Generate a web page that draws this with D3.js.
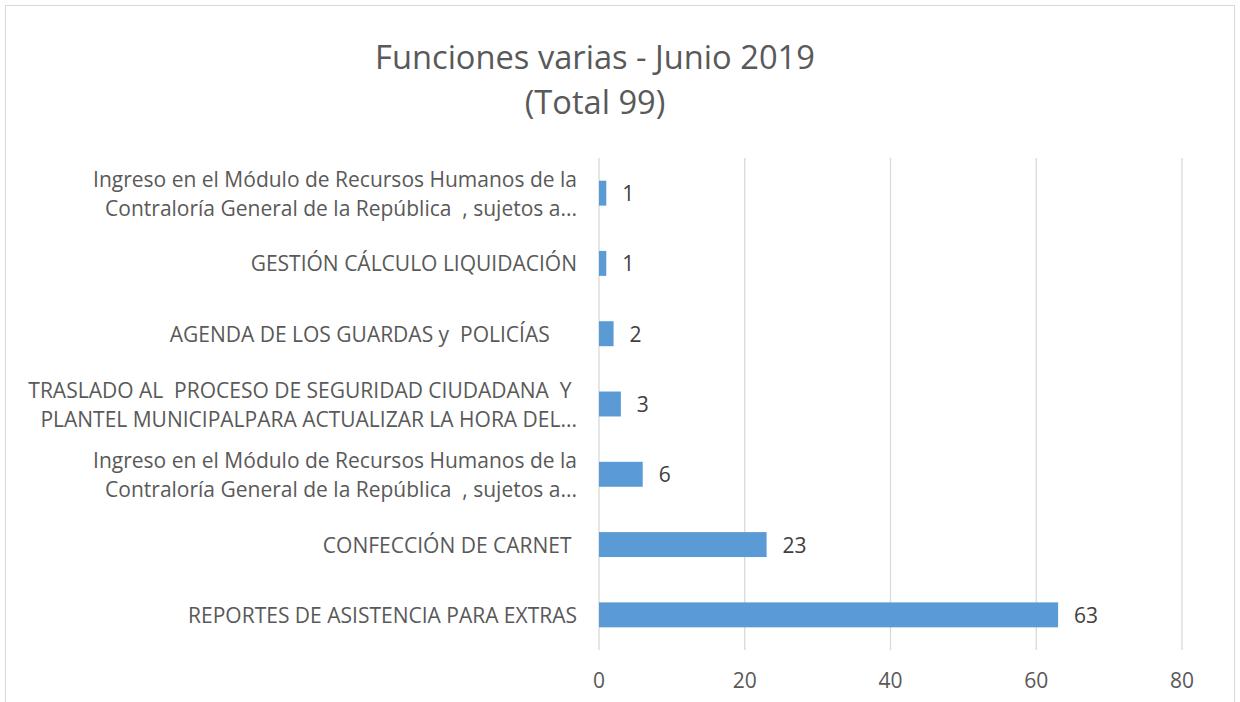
<!DOCTYPE html>
<html><head><meta charset="utf-8">
<script src="https://cdn.jsdelivr.net/npm/d3@7"></script>
<style>body{margin:0;background:#fff}svg text{white-space:pre}</style>
</head><body>
<svg id="c" width="1240" height="702"></svg>
<script>
const titleLines = ["Funciones varias - Junio 2019", "(Total 99)"];
const categories = [
  ["Ingreso en el Módulo de Recursos Humanos de la", "Contraloría General de la República  , sujetos a..."],
  ["GESTIÓN CÁLCULO LIQUIDACIÓN"],
  ["AGENDA DE LOS GUARDAS y  POLICÍAS     "],
  ["TRASLADO AL  PROCESO DE SEGURIDAD CIUDADANA  Y ", "PLANTEL MUNICIPALPARA ACTUALIZAR LA HORA DEL..."],
  ["Ingreso en el Módulo de Recursos Humanos de la", "Contraloría General de la República  , sujetos a..."],
  ["CONFECCIÓN DE CARNET "],
  ["REPORTES DE ASISTENCIA PARA EXTRAS"]
];
const values = [1, 1, 2, 3, 6, 23, 63];
const xTicks = [0, 20, 40, 60, 80];

const svg = d3.select("#c");
const font = "'Open Sans', Lato, sans-serif";
const textColor = "#595959";

// fit a font size so that a sample string has a target width
function fitSize(sample, target, base) {
  const t = svg.append("text").attr("font-family", font).attr("font-size", base).text(sample);
  const w = t.node().getComputedTextLength();
  t.remove();
  return base * target / w;
}
const titleSize = fitSize(titleLines[0], 440, 30);
const labelSize = fitSize("REPORTES DE ASISTENCIA PARA EXTRAS", 389, 18);
const tickSize = labelSize;

// chart border
svg.append("rect").attr("x", 5.5).attr("y", 5.5).attr("width", 1229).attr("height", 710)
  .attr("fill", "#fff").attr("stroke", "#d9d9d9").attr("stroke-width", 1);

const x = d3.scaleLinear().domain([0, 80]).range([599, 1182]);
const y = d3.scaleBand().domain(d3.range(categories.length)).range([158, 650]).paddingInner(0.645).paddingOuter(0.3225);

// gridlines
svg.append("g").selectAll("line").data(xTicks).join("line")
  .attr("x1", d => x(d)).attr("x2", d => x(d)).attr("y1", 158).attr("y2", 650)
  .attr("stroke", "#d9d9d9").attr("stroke-width", 1.3);

// title
svg.append("g").selectAll("text").data(titleLines).join("text")
  .attr("x", 595).attr("y", (d, i) => 69 + i * 45)
  .attr("text-anchor", "middle").attr("font-family", font).attr("font-size", titleSize)
  .attr("fill", textColor).text(d => d);

// bars
svg.append("g").selectAll("rect").data(values).join("rect")
  .attr("x", x(0)).attr("y", (d, i) => y(i))
  .attr("width", d => x(d) - x(0)).attr("height", y.bandwidth())
  .attr("fill", "#5b9bd5");

// value labels
svg.append("g").selectAll("text").data(values).join("text")
  .attr("x", d => x(d) + 16).attr("y", (d, i) => y(i) + y.bandwidth() / 2 + 8)
  .attr("font-family", font).attr("font-size", labelSize).attr("fill", "#404040").text(d => d);

// category labels
const lab = svg.append("g");
categories.forEach((lines, i) => {
  const cy = y(i) + y.bandwidth() / 2;
  lines.forEach((t, j) => {
    lab.append("text")
      .attr("x", 577).attr("y", cy + 8 + (j - (lines.length - 1) / 2) * 29)
      .attr("text-anchor", "end").attr("font-family", font).attr("font-size", labelSize)
      .attr("fill", textColor).text(t);
  });
});

// x tick labels
svg.append("g").selectAll("text").data(xTicks).join("text")
  .attr("x", d => x(d)).attr("y", 688).attr("text-anchor", "middle")
  .attr("font-family", font).attr("font-size", tickSize).attr("fill", textColor).text(d => d);
</script>
</body></html>
